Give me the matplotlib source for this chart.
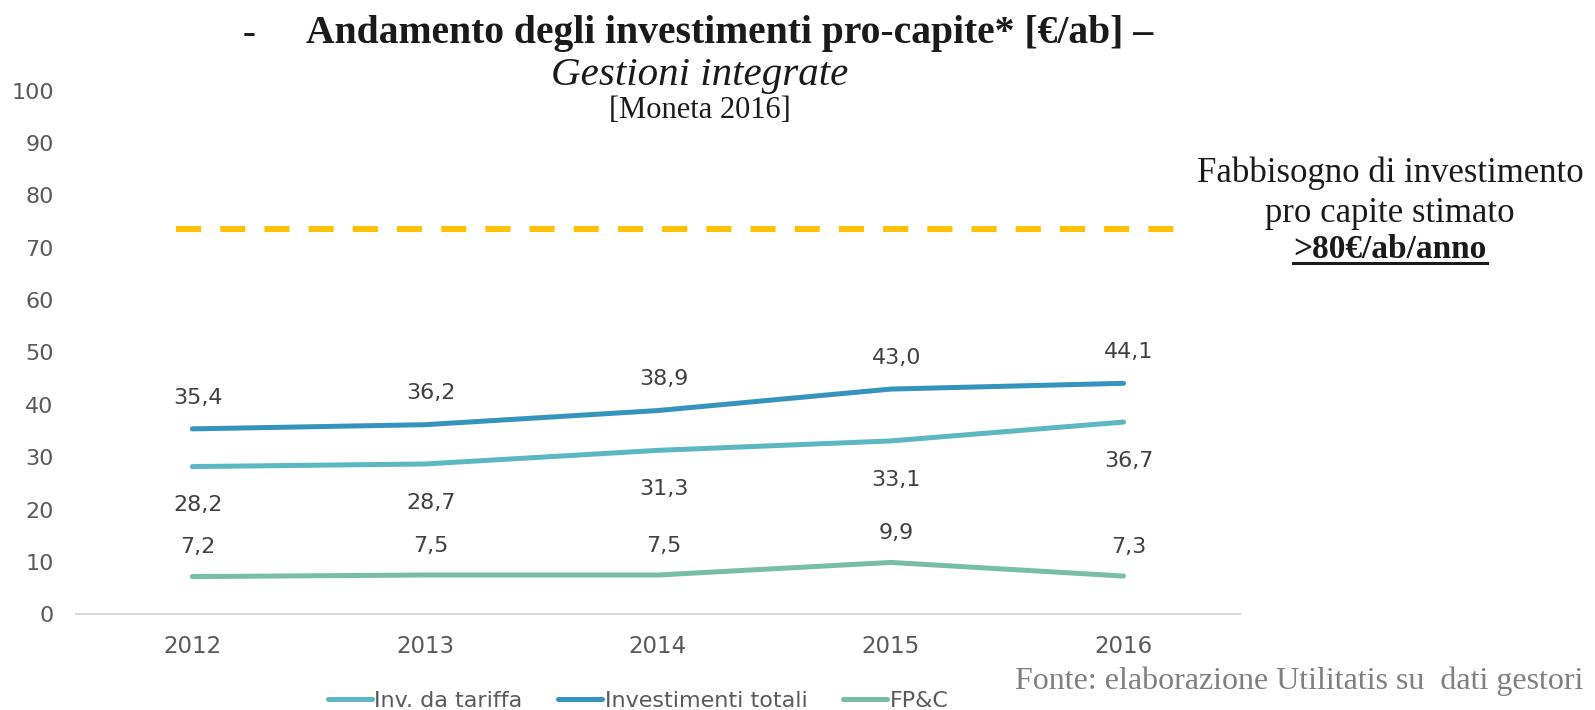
import matplotlib.pyplot as plt

# ---------------------------------------------------
# DATA
# ---------------------------------------------------

years = ["2012", "2013", "2014", "2015", "2016"]
inv_tariffa = [28.2, 28.7, 31.3, 33.1, 36.7]
inv_totali = [35.4, 36.2, 38.9, 43.0, 44.1]
fpc = [7.2, 7.5, 7.5, 9.9, 7.3]
fabbisogno_line = 73.5
y_ticks = [0, 10, 20, 30, 40, 50, 60, 70, 80, 90, 100]

c_tariffa = "#5BB8C1"
c_totali = "#3594BD"
c_fpc = "#77BEA5"
c_gold = "#FFC000"
c_text = "#404040"
c_tick = "#595959"

SANS = ["DejaVu Sans"]
SERIF = ["Liberation Serif", "DejaVu Serif"]


def fmt(v):
    return f"{v:.1f}".replace(".", ",")


# ---------------------------------------------------
# FIGURE
# ---------------------------------------------------

fig = plt.figure(figsize=(15.95, 7.1), dpi=100)
ax = fig.add_axes([0.0476, 0.1348, 0.7298, 0.7377])

x = list(range(len(years)))

# (values, colour, legend label, label offset in points)
series = [
    (inv_tariffa, c_tariffa, "Inv. da tariffa", -28),
    (inv_totali, c_totali, "Investimenti totali", 22.5),
    (fpc, c_fpc, "FP&C", 21),
]

handles = []
for vals, col, lab, off in series:
    h, = ax.plot(x, vals, color=col, lw=3.6, solid_capstyle="round",
                 solid_joinstyle="round", label=lab)
    handles.append(h)
    for xi, v in zip(x, vals):
        ax.annotate(fmt(v), (xi, v), xytext=(4, off), textcoords="offset points",
                    ha="center", va="center", fontsize=16, color=c_text,
                    family=SANS)

ax.axhline(fabbisogno_line, xmin=0.086, xmax=0.943, color=c_gold, lw=4.3,
           dashes=(4.2, 3.2), dash_capstyle="butt")

ax.set_xlim(-0.5, len(years) - 0.5)
ax.set_ylim(0, 100)
ax.set_xticks(x)
ax.set_xticklabels(years)
ax.set_yticks(y_ticks)
ax.tick_params(axis="both", length=0, labelcolor=c_tick)
ax.tick_params(axis="x", pad=15, labelsize=16.5)
ax.tick_params(axis="y", pad=16, labelsize=16)
for lbl in ax.get_xticklabels() + ax.get_yticklabels():
    lbl.set_family(SANS)

for s in ["top", "right", "left"]:
    ax.spines[s].set_visible(False)
ax.spines["bottom"].set_color("#D9D9D9")
ax.spines["bottom"].set_linewidth(1.5)

# ---------------------------------------------------
# TITLES AND NOTES
# ---------------------------------------------------

fig.text(249 / 1595, 1 - 34 / 710, "-", ha="center", va="center", fontsize=28,
         fontweight="bold", family=SERIF, color="#1a1a1a")
fig.text(730 / 1595, 1 - 34 / 710, "Andamento degli investimenti pro-capite* [€/ab] –",
         ha="center", va="center", fontsize=28.5, fontweight="bold", family=SERIF,
         color="#1a1a1a")
fig.text(700 / 1595, 1 - 75 / 710, "Gestioni integrate", ha="center", va="center",
         fontsize=29.5, style="italic", family=SERIF, color="#1a1a1a")
fig.text(700 / 1595, 1 - 111 / 710, "[Moneta 2016]", ha="center", va="center",
         fontsize=22, family=SERIF, color="#1a1a1a")

fig.text(1390 / 1595, 1 - 173 / 710, "Fabbisogno di investimento", ha="center",
         va="center", fontsize=25, family=SERIF, color="#1a1a1a")
fig.text(1390 / 1595, 1 - 213 / 710, "pro capite stimato", ha="center",
         va="center", fontsize=25, family=SERIF, color="#1a1a1a")
t80 = fig.text(1390 / 1595, 1 - 250 / 710, ">80€/ab/anno", ha="center",
               va="center", fontsize=24, fontweight="bold", family=SERIF,
               color="#1a1a1a")

fig.canvas.draw()
bb = t80.get_window_extent().transformed(fig.transFigure.inverted())
fig.add_artist(plt.Line2D([bb.x0, bb.x1], [bb.y0 + 0.004, bb.y0 + 0.004],
                          color="#1a1a1a", lw=2.2, transform=fig.transFigure))

fig.text(1583 / 1595, 1 - 681 / 710, "Fonte: elaborazione Utilitatis su  dati gestori",
         ha="right", va="center", fontsize=23, family=SERIF, color="#7f7f7f")

leg = fig.legend(handles=handles, loc="center", bbox_to_anchor=(638 / 1595, 1 - 701 / 710),
                 ncol=3, frameon=False, handlelength=2.0, handletextpad=0.1,
                 columnspacing=1.6, prop={"family": SANS, "size": 16})
for t in leg.get_texts():
    t.set_color(c_tick)

fig.savefig("out.png", dpi=100)
